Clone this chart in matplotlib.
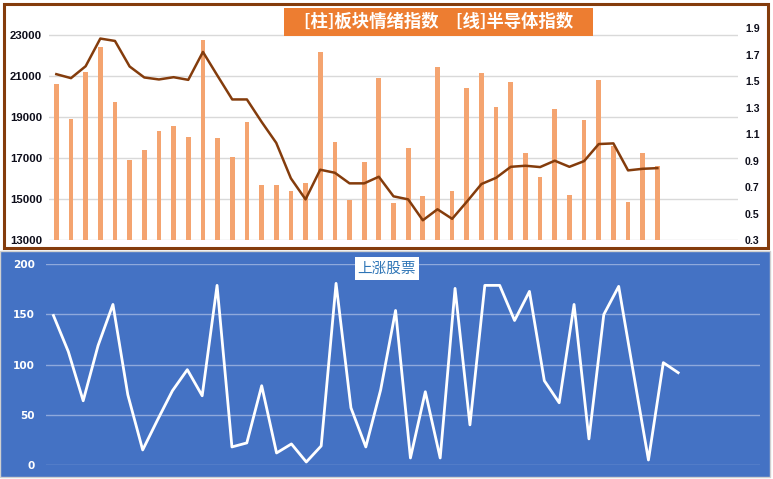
import matplotlib.pyplot as plt
from matplotlib.patches import Rectangle

# [柱] 板块情绪指数 (left axis)
sector_mood = [20610, 18900, 21200, 22420, 19730, 16900, 17390, 18320, 18560, 18020,
               22760, 17980, 17050, 18760, 15680, 15680, 15390, 15780, 22170, 17780,
               14950, 16800, 20900, 14800, 17490, 15150, 21440, 15390, 20420, 21150,
               19490, 20710, 17240, 16070, 19390, 15200, 18850, 20800, 17580, 14850,
               17240, 16610]
# [线] 半导体指数 (right axis)
semi_index = [1.553, 1.523, 1.613, 1.822, 1.804, 1.611, 1.528, 1.513, 1.530, 1.510,
              1.721, 1.540, 1.362, 1.362, 1.193, 1.034, 0.766, 0.607, 0.831, 0.808,
              0.728, 0.728, 0.778, 0.630, 0.607, 0.449, 0.532, 0.460, 0.589, 0.723,
              0.770, 0.853, 0.861, 0.851, 0.899, 0.853, 0.896, 1.025, 1.030, 0.826,
              0.838, 0.843]
# 上涨股票
rising = [149, 113, 64, 119, 160, 70, 15, 45, 74, 95, 69, 179, 18, 22, 79, 12, 21, 3,
          19, 181, 57, 18, 75, 154, 7, 73, 7, 176, 40, 179, 179, 144, 173, 84, 62, 160,
          26, 150, 178, 91, 5, 102, 92]

left_ticks = [13000, 15000, 17000, 19000, 21000, 23000]
right_ticks = [0.3, 0.5, 0.7, 0.9, 1.1, 1.3, 1.5, 1.7, 1.9]
bottom_ticks = [0, 50, 100, 150, 200]

W, H = 773, 479
fig = plt.figure(figsize=(W / 100, H / 100), dpi=100)

def fx(px):
    return px / W

def fy(py):
    return 1 - py / H

# blue background of the lower panel
fig.patches.append(Rectangle((0, fy(477)), fx(770), fy(251) - fy(477),
                             transform=fig.transFigure, facecolor="#4472C4",
                             edgecolor="#D0D0D0", lw=1, zorder=-2))
# brown frame of the upper panel
fig.patches.append(Rectangle((fx(4), fy(248)), fx(768) - fx(4), fy(4) - fy(248),
                             transform=fig.transFigure, facecolor="white",
                             edgecolor="#843C0C", lw=2.2, zorder=-2))

# ---- top panel ----
ax = fig.add_axes([fx(49), fy(240), fx(738) - fx(49), fy(15) - fy(240)])
ax.set_facecolor("none")
x_top = list(range(len(sector_mood)))
ax.bar(x_top, [v - 13000 for v in sector_mood], bottom=13000, width=0.32,
       color="#F4A470", zorder=2)
ax.set_xlim(-0.5, 46.5)
ax.set_ylim(13000, 24000)
ax.set_yticks(left_ticks)
ax.set_yticklabels([str(t) for t in left_ticks], fontsize=8.2, fontweight="bold",
                   family="Liberation Sans", color="#0D0D1A")
ax.set_xticks([])
ax.tick_params(axis="y", length=0, pad=5)
ax.grid(axis="y", color="#D9D9D9", lw=1, zorder=1)
ax.set_axisbelow(True)
for s in ax.spines.values():
    s.set_visible(False)

ax2 = ax.twinx()
ax2.plot(x_top, semi_index, color="#843C0C", lw=1.8, zorder=3)
ax2.set_ylim(0.3, 2.0)
ax2.set_yticks(right_ticks)
ax2.set_yticklabels([f"{t:.1f}" for t in right_ticks], fontsize=7.6, fontweight="bold",
                    family="Liberation Sans", color="#0D0D1A")
ax2.tick_params(axis="y", length=0, pad=5)
for s in ax2.spines.values():
    s.set_visible(False)

fig.patches.append(Rectangle((fx(284), fy(36)), fx(593) - fx(284), fy(8) - fy(36),
                             transform=fig.transFigure, facecolor="#ED7D31",
                             edgecolor="none", zorder=5))
fig.text(fx(438.5), fy(22), "[柱]板块情绪指数　[线]半导体指数", color="white",
         fontsize=12.5, fontweight="bold", family=["Noto Sans CJK SC", "DejaVu Sans"],
         ha="center", va="center", zorder=6)

# ---- bottom panel ----
bx = fig.add_axes([fx(46), fy(465), fx(760) - fx(46), fy(264.3) - fy(465)])
bx.set_facecolor("none")
x_bot = list(range(len(rising)))
bx.plot(x_bot, rising, color="white", lw=2, zorder=3)
bx.set_xlim(-0.5, 47.5)
bx.set_ylim(0, 200)
bx.set_yticks(bottom_ticks)
bx.set_yticklabels([str(t) for t in bottom_ticks], fontsize=7.6, fontweight="bold",
                   color="white", family="DejaVu Sans")
bx.set_xticks([])
bx.tick_params(axis="y", length=0, pad=8)
bx.grid(axis="y", color="#8FA9DC", lw=1, zorder=1)
bx.set_axisbelow(True)
for s in bx.spines.values():
    s.set_visible(False)

fig.patches.append(Rectangle((fx(355), fy(280)), fx(419) - fx(355), fy(257) - fy(280),
                             transform=fig.transFigure, facecolor="white",
                             edgecolor="none", zorder=5))
fig.text(fx(387), fy(268.5), "上涨股票", color="#2E75B6", fontsize=10.5,
         family=["Noto Sans CJK SC", "DejaVu Sans"], ha="center", va="center", zorder=6)

fig.savefig("out.png", dpi=100)
